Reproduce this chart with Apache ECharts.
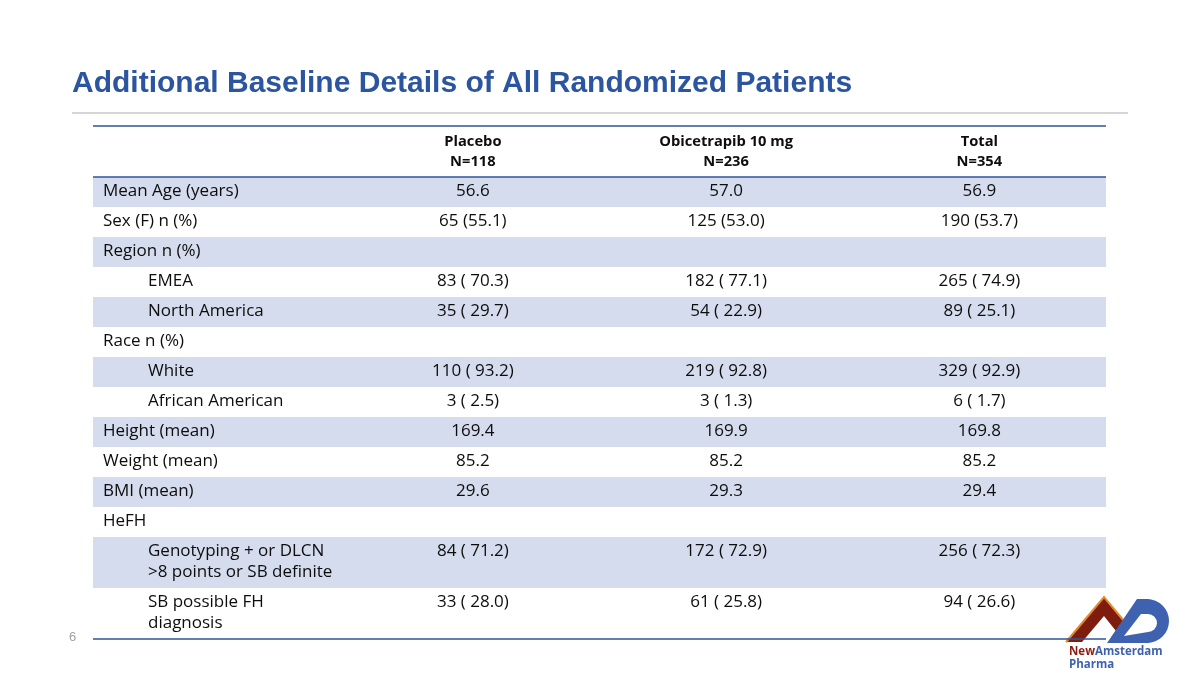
<!DOCTYPE html>
<html>
<head>
<meta charset="utf-8">
<script src="https://cdn.jsdelivr.net/npm/echarts@6/dist/echarts.min.js"></script>
<style>
  html, body { margin: 0; padding: 0; background: #ffffff; }
  #chart { width: 1200px; height: 675px; }
</style>
</head>
<body>
<div id="chart"></div>
<script>
// ---------- Data ----------
const titleText = 'Additional Baseline Details of All Randomized Patients';
const columnHeaders = ['', 'Placebo\nN=118', 'Obicetrapib 10 mg\nN=236', 'Total\nN=354'];
const rowLabels = [
  'Mean Age (years)', 'Sex (F) n (%)', 'Region n (%)', 'EMEA', 'North America',
  'Race n (%)', 'White', 'African American', 'Height (mean)', 'Weight (mean)',
  'BMI (mean)', 'HeFH', 'Genotyping + or DLCN\n>8 points or SB definite', 'SB possible FH\ndiagnosis'
];
const rowIsSubItem = [false, false, false, true, true, false, true, true, false, false, false, false, true, true];
const placeboValues = ['56.6', '65 (55.1)', '', '83 ( 70.3)', '35 ( 29.7)', '', '110 ( 93.2)', '3 ( 2.5)', '169.4', '85.2', '29.6', '', '84 ( 71.2)', '33 ( 28.0)'];
const obicetrapibValues = ['57.0', '125 (53.0)', '', '182 ( 77.1)', '54 ( 22.9)', '', '219 ( 92.8)', '3 ( 1.3)', '169.9', '85.2', '29.3', '', '172 ( 72.9)', '61 ( 25.8)'];
const totalValues = ['56.9', '190 (53.7)', '', '265 ( 74.9)', '89 ( 25.1)', '', '329 ( 92.9)', '6 ( 1.7)', '169.8', '85.2', '29.4', '', '256 ( 72.3)', '94 ( 26.6)'];
const pageNumber = '6';

// ---------- Styles ----------
const BODY_FONT = '"Open Sans", "Noto Sans", sans-serif';
const BODY_SIZE = 17, BODY_LINE = 21, BODY_PAD = 9;
const HEAD_SIZE = 14.7, HEAD_LINE = 20, HEAD_PAD = 11;
const SHADE = '#D4DCED';
const RULE = '#2F5597';
const TEXT = '#0D0D0D';

// ---------- Build rows (heights derived from line counts) ----------
const lineCount = s => s.split('\n').length;
const headerLines = Math.max.apply(null, columnHeaders.map(lineCount));
const rows = [];
const headerH = HEAD_PAD + HEAD_LINE * headerLines;
rows.push({ kind: 'header', y0: 0, y1: headerH });
let cursor = headerH;
rowLabels.forEach((lab, i) => {
  const h = BODY_PAD + BODY_LINE * lineCount(lab);
  rows.push({ kind: 'body', idx: i, y0: cursor, y1: cursor + h });
  cursor += h;
});
const tableHeight = cursor;
const GRID_TOP = 126;

const seriesData = rows.map((r, k) => [k, r.y0, r.y1]);

function renderItem(params, api) {
  const k = api.value(0);
  const r = rows[k];
  const y0 = api.value(1), y1 = api.value(2);
  const band = api.size([1, 0])[0];
  const p0 = api.coord([0, y0]);
  const p1 = api.coord([0, y1]);
  const left = p0[0] - band / 2;
  const right = left + band * columnHeaders.length;
  const children = [];
  if (r.kind === 'header') {
    columnHeaders.forEach((h, c) => {
      if (!h) return;
      const cx = api.coord([c, y0])[0];
      children.push({
        type: 'text',
        style: {
          text: h, x: cx, y: p0[1] + 6, align: 'center', verticalAlign: 'top',
          font: 'bold ' + HEAD_SIZE + 'px ' + BODY_FONT, lineHeight: HEAD_LINE, fill: TEXT
        }
      });
    });
    children.push({ type: 'line', shape: { x1: left, y1: p0[1], x2: right, y2: p0[1] }, style: { stroke: RULE, lineWidth: 1.5 } });
    children.push({ type: 'line', shape: { x1: left, y1: p1[1], x2: right, y2: p1[1] }, style: { stroke: RULE, lineWidth: 1.5 }, z2: 10 });
  } else {
    const i = r.idx;
    if (i % 2 === 0) {
      children.push({ type: 'rect', shape: { x: left, y: p0[1], width: right - left, height: p1[1] - p0[1] }, style: { fill: SHADE } });
    }
    const ty = p0[1] + 4;
    const bodyFont = BODY_SIZE + 'px ' + BODY_FONT;
    children.push({
      type: 'text',
      style: { text: rowLabels[i], x: left + (rowIsSubItem[i] ? 55 : 10), y: ty, align: 'left', verticalAlign: 'top', font: bodyFont, lineHeight: BODY_LINE, fill: TEXT }
    });
    [placeboValues, obicetrapibValues, totalValues].forEach((vals, c) => {
      if (!vals[i]) return;
      const cx = api.coord([c + 1, y0])[0];
      children.push({
        type: 'text',
        style: { text: vals[i], x: cx, y: ty, align: 'center', verticalAlign: 'top', font: bodyFont, lineHeight: BODY_LINE, fill: TEXT }
      });
    });
    if (k === rows.length - 1) {
      children.push({ type: 'line', shape: { x1: left, y1: p1[1], x2: right, y2: p1[1] }, style: { stroke: RULE, lineWidth: 1.5 } });
    }
  }
  return { type: 'group', children: children };
}

const chart = echarts.init(document.getElementById('chart'), null, { renderer: 'canvas' });
chart.setOption({
  backgroundColor: '#ffffff',
  animation: false,
  grid: { left: 93, right: 94, top: GRID_TOP, height: tableHeight },
  xAxis: { type: 'category', data: columnHeaders, show: false, boundaryGap: true },
  yAxis: { type: 'value', min: 0, max: tableHeight, inverse: true, show: false },
  series: [{
    type: 'custom',
    renderItem: renderItem,
    data: seriesData,
    clip: false,
    encode: { x: -1, y: [1, 2] }
  }],
  graphic: [
    { type: 'text', x: 72, y: 84, style: { text: titleText, font: 'bold 30px "Liberation Sans", Arial, sans-serif', fill: '#2C55A0', verticalAlign: 'middle' } },
    { type: 'line', shape: { x1: 72, y1: 113, x2: 1128, y2: 113 }, style: { stroke: '#C8C8C8', lineWidth: 1.5 } },
    { type: 'text', x: 69, y: 637, style: { text: pageNumber, font: '13px "Liberation Sans", Arial, sans-serif', fill: '#A0A0A0', verticalAlign: 'middle' } },
    // logo
    { type: 'polygon', shape: { points: [[1066, 642], [1104, 597], [1124, 621], [1116, 631], [1104, 616], [1082, 642]] }, style: { fill: '#7E1D0E' } },
    { type: 'polyline', shape: { points: [[1066, 642], [1104, 597], [1124, 621]] }, style: { stroke: '#E38B2C', lineWidth: 2, fill: null } },
    { type: 'polygon', shape: { points: [[1107, 643], [1137, 599], [1149, 599], [1149, 643]] }, style: { fill: '#3E62B0' } },
    { type: 'sector', shape: { cx: 1147, cy: 621, r: 22, r0: 0, startAngle: -Math.PI / 2, endAngle: Math.PI / 2 }, style: { fill: '#3E62B0' } },
    { type: 'polygon', shape: { points: [[1124, 636], [1141, 614], [1148, 614], [1148, 632]] }, style: { fill: '#ffffff' } },
    { type: 'circle', shape: { cx: 1148, cy: 623, r: 9 }, style: { fill: '#ffffff' } },
    { type: 'text', x: 1069, y: 652, style: { text: '{a|New}{b|Amsterdam}', verticalAlign: 'middle', rich: { a: { fill: '#8E1B10', fontFamily: '"Open Sans", sans-serif', fontWeight: 'bold', fontSize: 11.5 }, b: { fill: '#3E62B0', fontFamily: '"Open Sans", sans-serif', fontWeight: 'bold', fontSize: 11.5 } } } },
    { type: 'text', x: 1069, y: 665, style: { text: 'Pharma', fill: '#3E62B0', font: 'bold 11.5px "Open Sans", sans-serif', verticalAlign: 'middle' } }
  ]
});
</script>
</body>
</html>
